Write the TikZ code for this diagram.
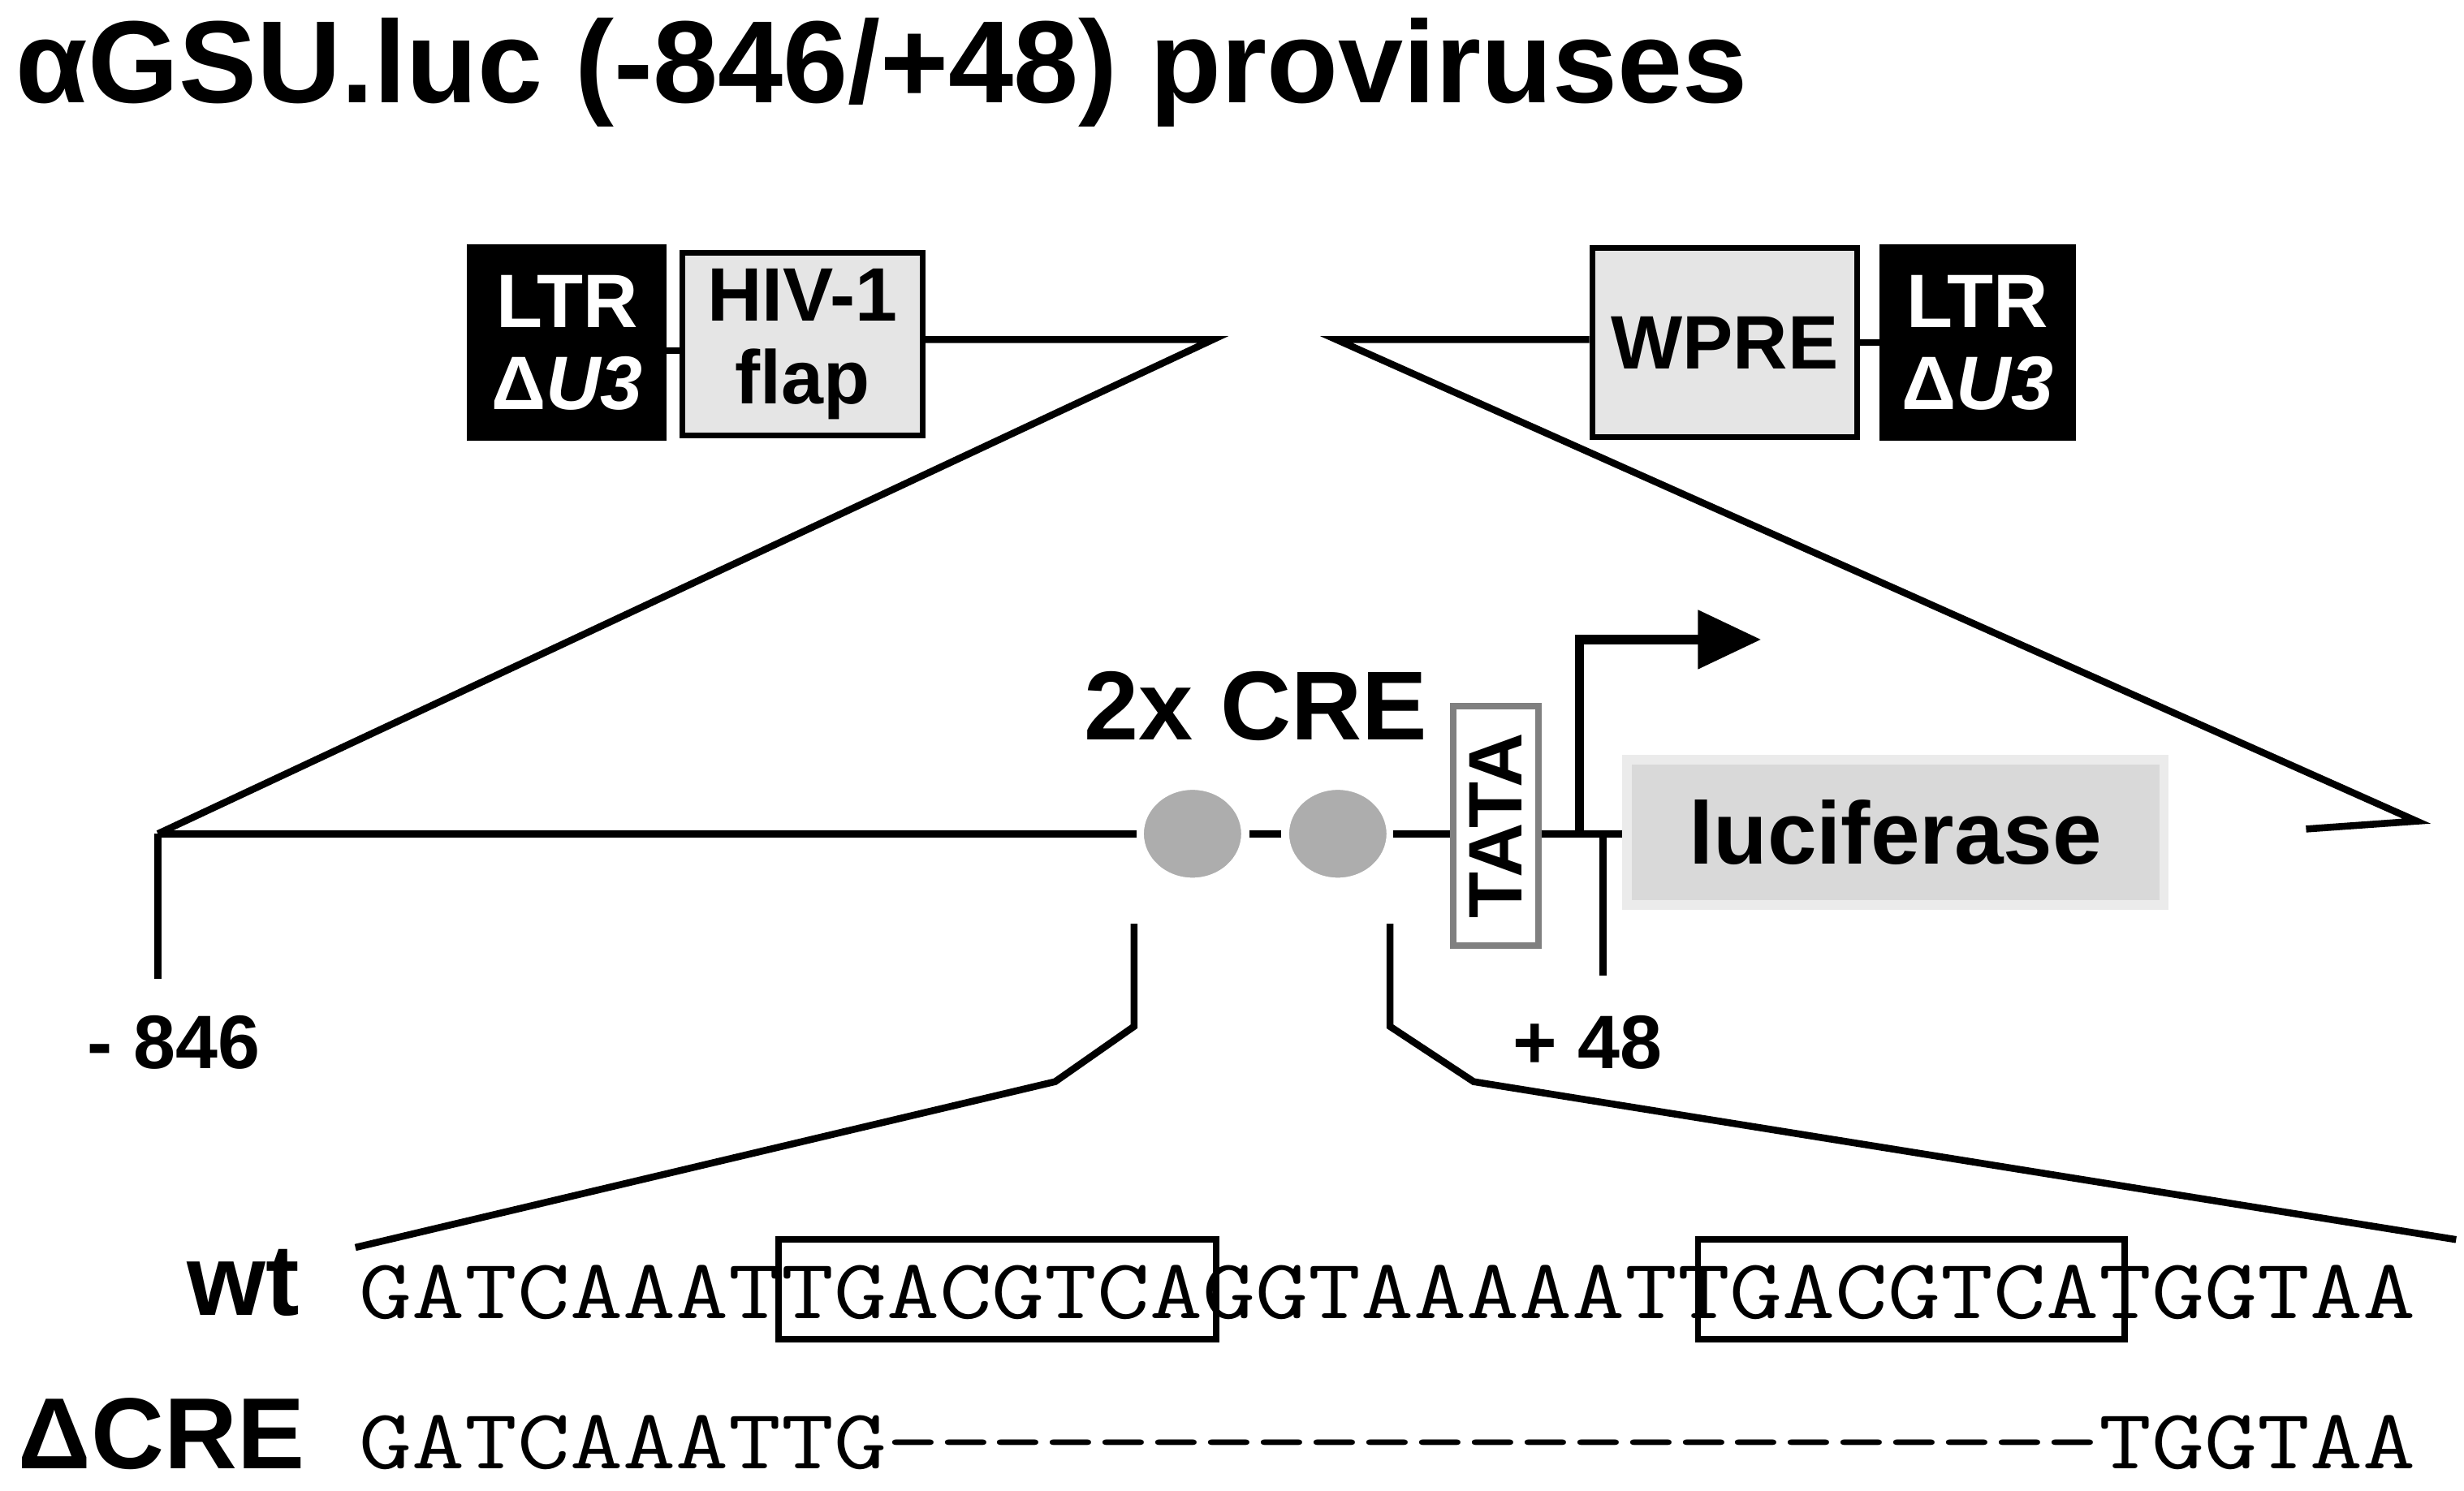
\documentclass[tikz,border=0pt]{standalone}
\usepackage{fontspec}
\setmainfont{Liberation Sans}
\usetikzlibrary{arrows.meta,shapes.geometric}
\begin{document}
\begin{tikzpicture}[x=0.5pt,y=-0.5pt,line width=2.2pt,
  blk/.style={draw=black,fill=black,text=white,font=\bfseries\fontsize{24}{26}\selectfont,align=center,inner sep=0pt},
  gbox/.style={draw=black,line width=1.8pt,fill=black!10,font=\bfseries\fontsize{24}{26}\selectfont,align=center,inner sep=0pt},
  cre/.style={ellipse,fill=black!32,draw=white,minimum width=33pt,minimum height=30pt,inner sep=0pt},
  seq/.style={font=\ttfamily\fontsize{27}{29}\selectfont,xscale=1.2,anchor=base west,inner sep=0pt}]
\useasboundingbox (0,0) rectangle (1560,944);
\node[anchor=base west,inner sep=0pt,font=\bfseries\fontsize{37}{39}\selectfont] (title) at (8,65) {αGSU.luc (-846/+48) proviruses};
% top construct
\node[blk,minimum width=61pt,minimum height=60pt] (ltr1) at (359,217) {LTR\\Δ\textit{U3}};
\node[gbox,minimum width=76pt,minimum height=58pt] (flap) at (508,218) {HIV-1\\flap};
\node[gbox,minimum width=84pt,minimum height=60pt] (wpre) at (1092,217) {WPRE};
\node[blk,minimum width=60pt,minimum height=60pt] (ltr2) at (1252,217) {LTR\\Δ\textit{U3}};
\coordinate (a1) at (768,215); \coordinate (a2) at (846,215);
\draw (ltr1.east |- 0,222) -- (flap.west |- 0,222);
\draw (flap.east |- a1) -- (a1) -- (100,528);
\draw (wpre.west |- a2) -- (a2) -- (1530,520) -- (1460,525);
\draw (wpre.east) -- (ltr2.west);
% main line
\node[cre] (e1) at (755,528) {};
\node[cre] (e2) at (847,528) {};
\node[draw=black!50,line width=2pt,fill=white,minimum width=27pt,minimum height=76pt,inner sep=0pt] (tata) at (947,523) {};
\node[rotate=90,font=\bfseries\fontsize{24}{26}\selectfont] at (tata.center) {TATA};
\coordinate (m846) at (100,528);
\draw (m846) -- (e1.west);
\draw (791,528) -- (811,528);
\draw (e2.east) -- (tata.west |- 0,528);
\draw (tata.east |- 0,528) -- (1028,528);
\draw (m846) -- (100,620);
\draw (1015,528) -- (1015,618);
\draw[line width=3pt,-{Triangle[length=20pt,width=18pt]}] (1000,528) -- (1000,405) -- (1115,405);
\node[font=\bfseries\fontsize{31}{33}\selectfont] (cre) at (795,447) {2x CRE};
\node[fill=black!15,draw=black!8,line width=3pt,minimum width=170pt,minimum height=46pt,font=\bfseries\fontsize{28}{30}\selectfont] (luc) at (1200,527) {luciferase};
\node[font=\bfseries\fontsize{24}{26}\selectfont] (l846) at (110,660) {- 846};
\node[font=\bfseries\fontsize{24}{26}\selectfont] (l48) at (1005,660) {+ 48};
% zoom lines
\draw (718,585) -- (718,650) -- (668,685) -- (225,790);
\draw (880,585) -- (880,650) -- (933,685) -- (1555,785);
% sequences
\node[anchor=base east,inner sep=0pt,font=\bfseries\fontsize{32}{34}\selectfont] (wt) at (192,833) {wt};
\node[seq] (s1) at (225,835) {GATCAAATTGACGTCAGGTAAAAATTGACGTCATGGTAA};
\draw[line width=2pt] (493,785) rectangle (770,848);
\draw[line width=2pt] (1075,785) rectangle (1345,848);
\node[anchor=base east,inner sep=0pt,font=\bfseries\fontsize{32}{34}\selectfont] (dcre) at (195,930) {ΔCRE};
\node[seq] (s2) at (225,930) {GATCAAATTG-{}-{}-{}-{}-{}-{}-{}-{}-{}-{}-{}-{}-{}-{}-{}-{}-{}-{}-{}-{}-{}-{}-{}TGGTAA};
\end{tikzpicture}
\end{document}
